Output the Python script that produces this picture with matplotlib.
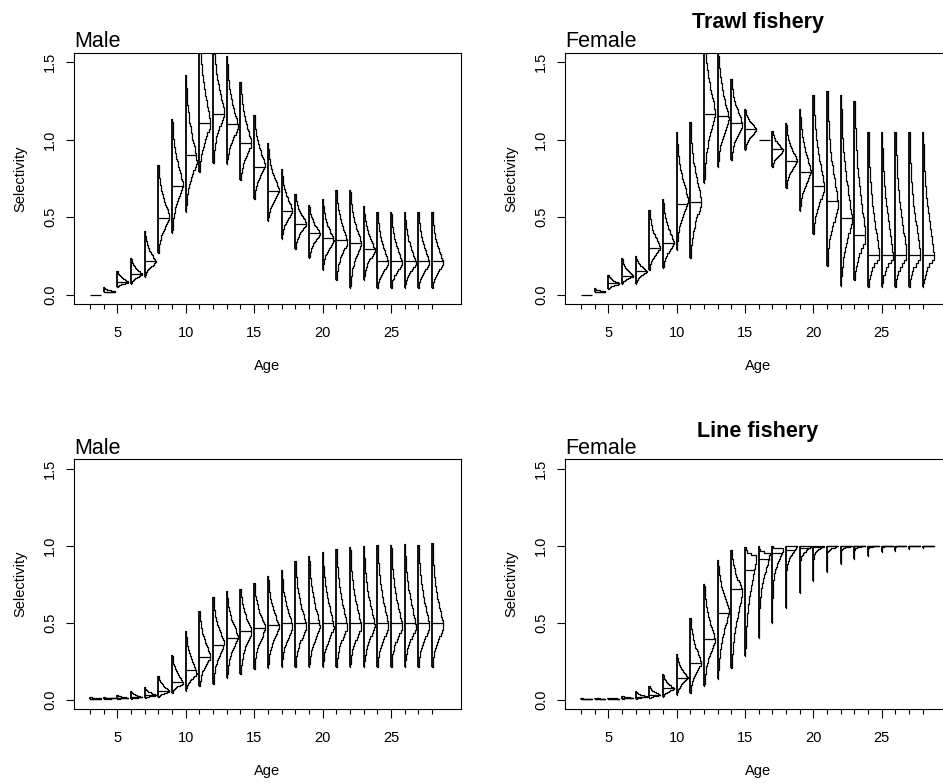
import numpy as np
import matplotlib
matplotlib.use("Agg")
import matplotlib.pyplot as plt
from matplotlib.transforms import offset_copy

plt.rcParams['font.family'] = ['Liberation Sans', 'DejaVu Sans']

ages = list(range(3, 29))

# ---- Trawl fishery, male: posterior range, median and mode of selectivity by age
trawl_m_lo = [0.0, 0.015, 0.048, 0.07, 0.112, 0.27, 0.40, 0.536, 0.793, 0.851, 0.84, 0.739, 0.62,
              0.473, 0.356, 0.296, 0.235, 0.162, 0.097, 0.043, 0.097, 0.043, 0.043, 0.043, 0.043, 0.043]
trawl_m_med = [0.0, 0.02, 0.08, 0.134, 0.214, 0.497, 0.70, 0.90, 1.11, 1.166, 1.10, 0.976, 0.825,
               0.67, 0.54, 0.458, 0.397, 0.367, 0.35, 0.333, 0.294, 0.22, 0.22, 0.22, 0.22, 0.22]
trawl_m_hi = [0.0, 0.05, 0.155, 0.238, 0.41, 0.836, 1.134, 1.419, 1.72, 1.70, 1.538, 1.371, 1.16,
              0.976, 0.808, 0.646, 0.581, 0.616, 0.678, 0.678, 0.57, 0.533, 0.533, 0.533, 0.533, 0.533]
trawl_m_mode = [0.0, 0.02, 0.08, 0.13, 0.21, 0.50, 0.706, 0.86, 1.10, 1.166, 1.08, 0.97, 0.83,
                0.67, 0.54, 0.46, 0.39, 0.35, 0.34, 0.33, 0.285, 0.20, 0.20, 0.20, 0.20, 0.20]

# ---- Trawl fishery, female
trawl_f_lo = [0.0, 0.015, 0.037, 0.07, 0.07, 0.162, 0.17, 0.29, 0.235, 0.721, 0.825, 0.868, 0.933,
              1.0, 0.825, 0.685, 0.538, 0.393, 0.188, 0.058, 0.097, 0.052, 0.052, 0.052, 0.052, 0.052]
trawl_f_med = [0.0, 0.02, 0.073, 0.123, 0.151, 0.302, 0.333, 0.583, 0.598, 1.166, 1.149, 1.11, 1.069,
               1.0, 0.937, 0.864, 0.793, 0.702, 0.605, 0.497, 0.387, 0.257, 0.257, 0.257, 0.257, 0.257]
trawl_f_hi = [0.0, 0.04, 0.13, 0.238, 0.25, 0.544, 0.616, 1.048, 1.112, 1.72, 1.62, 1.391, 1.197,
              1.0, 1.058, 1.104, 1.197, 1.29, 1.315, 1.29, 1.25, 1.048, 1.048, 1.048, 1.048, 1.048]
trawl_f_mode = [0.0, 0.02, 0.07, 0.12, 0.15, 0.30, 0.33, 0.61, 0.598, 1.17, 1.13, 1.10, 1.065,
                1.0, 0.93, 0.86, 0.79, 0.68, 0.566, 0.48, 0.36, 0.246, 0.246, 0.246, 0.246, 0.246]

# ---- Line fishery, male
line_m_lo = [0.005, 0.005, 0.005, 0.005, 0.009, 0.015, 0.043, 0.06, 0.086, 0.103, 0.14, 0.168, 0.198,
             0.204, 0.215, 0.215, 0.215, 0.215, 0.215, 0.215, 0.215, 0.215, 0.215, 0.215, 0.215, 0.215]
line_m_med = [0.008, 0.009, 0.012, 0.017, 0.032, 0.058, 0.118, 0.194, 0.28, 0.355, 0.402, 0.447, 0.467,
              0.484, 0.495, 0.497, 0.499, 0.501, 0.501, 0.501, 0.501, 0.501, 0.501, 0.501, 0.501, 0.501]
line_m_hi = [0.018, 0.016, 0.03, 0.054, 0.082, 0.155, 0.29, 0.447, 0.574, 0.667, 0.703, 0.72, 0.759,
             0.806, 0.843, 0.897, 0.933, 0.961, 0.978, 0.994, 0.998, 1.006, 1.006, 1.01, 1.006, 1.017]
line_m_mode = [0.008, 0.009, 0.012, 0.017, 0.03, 0.055, 0.108, 0.172, 0.28, 0.366, 0.41, 0.447, 0.465,
               0.47, 0.47, 0.47, 0.47, 0.47, 0.47, 0.47, 0.47, 0.47, 0.47, 0.47, 0.47, 0.47]

# ---- Line fishery, female
line_f_lo = [0.002, 0.002, 0.003, 0.005, 0.004, 0.01, 0.02, 0.032, 0.047, 0.086, 0.133, 0.204, 0.284,
             0.398, 0.501, 0.598, 0.692, 0.77, 0.828, 0.882, 0.914, 0.935, 0.957, 0.968, 0.978, 0.985]
line_f_med = [0.005, 0.006, 0.007, 0.012, 0.02, 0.032, 0.073, 0.14, 0.237, 0.391, 0.566, 0.72, 0.843,
              0.914, 0.95, 0.972, 0.985, 0.992, 0.995, 0.997, 0.998, 0.999, 0.999, 1.0, 1.0, 1.0]
line_f_hi = [0.01, 0.012, 0.014, 0.026, 0.054, 0.09, 0.166, 0.30, 0.533, 0.753, 0.908, 0.972, 0.989,
             0.996, 0.998, 1.0, 1.0, 1.0, 1.0, 1.0, 1.0, 1.0, 1.0, 1.0, 1.0, 1.0]
line_f_mode = [0.005, 0.006, 0.007, 0.012, 0.02, 0.03, 0.07, 0.14, 0.237, 0.39, 0.58, 0.70, 0.925,
               0.946, 0.98, 1.0, 1.0, 1.0, 1.0, 1.0, 1.0, 1.0, 1.0, 1.0, 1.0, 1.0]
# tail concentration of each distribution (larger = more mass close to the mode)
line_f_conc = [3.3, 3.3, 3.3, 3.3, 3.3, 3.3, 3.3, 3.3, 3.3, 3.3, 3.1, 3.0, 3.5,
               5.0, 8.0, 12.0, 16.0, 20.0, 24.0, 26.0, 28.0, 28.0, 28.0, 28.0, 28.0, 28.0]
default_conc = [3.3] * len(ages)

y_ticks = [0.0, 0.5, 1.0, 1.5]
y_tick_labels = ["0.0", "0.5", "1.0", "1.5"]
x_ticks = [5, 10, 15, 20, 25]

FW, FH = 943, 783
HALF_W = 0.8     # maximal half-violin width, in age units
NBINS = 40
TAIL_POWER = 1.46


def add_axes_px(left, top, right, bottom):
    return fig.add_axes([left / FW, 1 - bottom / FH, (right - left) / FW, (bottom - top) / FH])


def draw_half_violins(ax, lo, med, hi, mode, conc):
    for a, l, m, h, mo, c in zip(ages, lo, med, hi, mode, conc):
        if h - l < 1e-6:
            ax.plot([a, a + HALF_W], [m, m], color='black', lw=0.9, solid_capstyle='butt')
            continue
        edges = np.linspace(l, h, NBINS + 1)
        centers = 0.5 * (edges[:-1] + edges[1:])
        side = np.where(centers < mo, max(mo - l, 1e-4), max(h - mo, 1e-4))
        d = np.abs(centers - mo) / side
        w = np.exp(-c * d ** TAIL_POWER)
        w = HALF_W * w / w.max()
        xs = [a]
        ys = [l]
        for i in range(NBINS):
            xs += [a + w[i], a + w[i]]
            ys += [edges[i], edges[i + 1]]
        xs.append(a)
        ys.append(h)
        ax.plot(xs, ys, color='black', lw=0.9)
        ax.plot([a, a], [l, h], color='black', lw=1.3, solid_capstyle='butt')
        idx = int(np.searchsorted(edges, m, side='right')) - 1
        idx = min(max(idx, 0), NBINS - 1)
        ax.plot([a, a + w[idx]], [m, m], color='black', lw=0.9)


def style_axes(ax):
    ax.set_xlim(1.84, 30.11)
    ax.set_ylim(-0.06, 1.56)
    for sp in ax.spines.values():
        sp.set_linewidth(0.8)
    ax.set_xticks(x_ticks)
    ax.set_xticklabels([str(t) for t in x_ticks])
    ax.set_xticks(ages, minor=True)
    ax.set_yticks(y_ticks)
    ax.set_yticklabels(y_tick_labels, rotation=90, va='center')
    ax.tick_params(axis='x', which='major', length=6.3, width=0.8, pad=9.5, labelsize=10.5)
    ax.tick_params(axis='x', which='minor', length=3.8, width=0.8)
    ax.tick_params(axis='y', which='major', length=6.0, width=0.8, pad=6.0, labelsize=10.5)


fig = plt.figure(figsize=(FW / 100, FH / 100), dpi=100)

panels = [
    (74, 52.7, 461, 304, "Male", trawl_m_lo, trawl_m_med, trawl_m_hi, trawl_m_mode, default_conc),
    (565, 52.7, 951.7, 304, "Female", trawl_f_lo, trawl_f_med, trawl_f_hi, trawl_f_mode, default_conc),
    (74, 459.3, 461, 709, "Male", line_m_lo, line_m_med, line_m_hi, line_m_mode, default_conc),
    (565, 459.3, 951.7, 709, "Female", line_f_lo, line_f_med, line_f_hi, line_f_mode, line_f_conc),
]

for left, top, right, bottom, sex, lo, med, hi, mode, conc in panels:
    ax = add_axes_px(left, top, right, bottom)
    draw_half_violins(ax, lo, med, hi, mode, conc)
    style_axes(ax)
    ax.text(0, 1, sex, transform=offset_copy(ax.transAxes, fig=fig, x=0, y=5.5, units='dots'),
            ha='left', va='baseline', fontsize=15.5)
    cx = (left + right) / 2
    cy = (top + bottom) / 2
    fig.text(cx / FW, 1 - (bottom + 62) / FH, "Age", ha='center', va='center', fontsize=10.5)
    fig.text((left - 54) / FW, 1 - cy / FH, "Selectivity", ha='center', va='center',
             rotation=90, fontsize=10.5)

fig.text(758 / FW, 1 - 28.3 / FH, "Trawl fishery", ha='center', va='baseline',
         fontsize=15.5, fontweight='bold')
fig.text(758 / FW, 1 - 436.7 / FH, "Line fishery", ha='center', va='baseline',
         fontsize=15.5, fontweight='bold')

fig.savefig("out.png", dpi=100)
